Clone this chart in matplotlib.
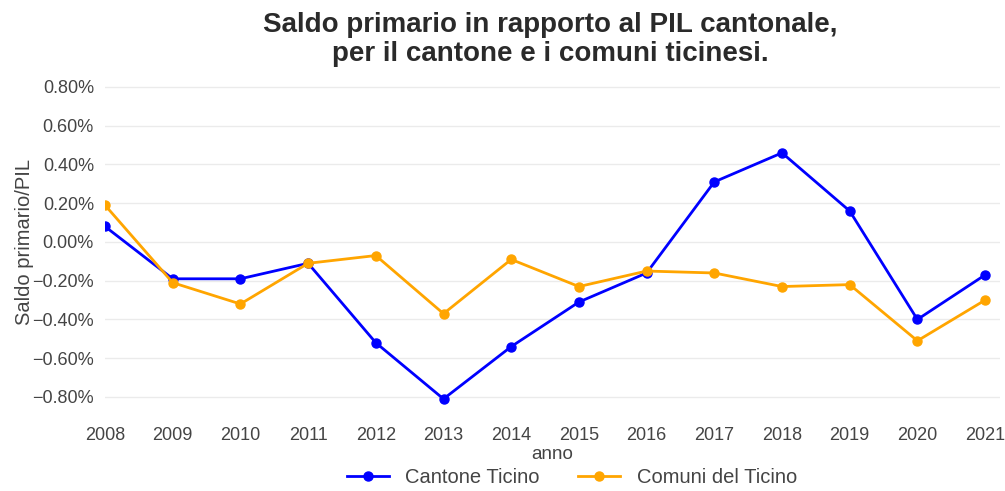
import numpy as np
import matplotlib.pyplot as plt
from matplotlib.ticker import FuncFormatter

plt.rcParams['font.family'] = ['Liberation Sans', 'DejaVu Sans']

anni = [2008, 2009, 2010, 2011, 2012, 2013, 2014, 2015, 2016, 2017, 2018, 2019, 2020, 2021]
cantone = [0.08, -0.19, -0.19, -0.11, -0.52, -0.81, -0.54, -0.31, -0.16, 0.31, 0.46, 0.16, -0.40, -0.17]
comuni = [0.19, -0.21, -0.32, -0.11, -0.07, -0.37, -0.09, -0.23, -0.15, -0.16, -0.23, -0.22, -0.51, -0.30]


def fmt_pct(v, pos):
    s = '{:.2f}%'.format(v)
    if s == '-0.00%':
        s = '0.00%'
    return s.replace('-', '\u2212')


fig = plt.figure(figsize=(10.05, 4.91), dpi=100)
ax = fig.add_axes([0.1045, 0.152, 0.8905, 0.6906])

ax.plot(anni, cantone, color='#0000ff', lw=2, marker='o', ms=6.5, label='Cantone Ticino')
ax.plot(anni, comuni, color='#ffa500', lw=2, marker='o', ms=6.5, label='Comuni del Ticino')

ax.set_xlim(2008, 2021.22)
ax.set_ylim(-0.9, 0.85)
ax.set_xticks(anni)
ax.set_yticks(np.arange(-0.8, 0.81, 0.2))
ax.yaxis.set_major_formatter(FuncFormatter(fmt_pct))
ax.grid(axis='y', color='#ebebeb', lw=1)
ax.set_axisbelow(True)
for s in ax.spines.values():
    s.set_visible(False)
ax.tick_params(length=0, labelsize=13, colors='#444444', pad=8)

ax.set_xlabel('anno', fontsize=13.5, color='#444444', labelpad=1)
ax.set_ylabel('Saldo primario/PIL', fontsize=14.5, color='#444444')
ax.yaxis.set_label_coords(-0.079, 0.513)

fig.suptitle('Saldo primario in rapporto al PIL cantonale,\nper il cantone e i comuni ticinesi.',
             x=0.548, y=0.975, fontsize=20, fontweight='bold', color='#2a2a2a', linespacing=1.15)

fig.legend(loc='lower center', bbox_to_anchor=(0.569, -0.028), ncol=2, frameon=False,
           fontsize=14.5, handlelength=2.1, columnspacing=1.9, labelcolor='#444444')

fig.savefig('out.png', dpi=100)
